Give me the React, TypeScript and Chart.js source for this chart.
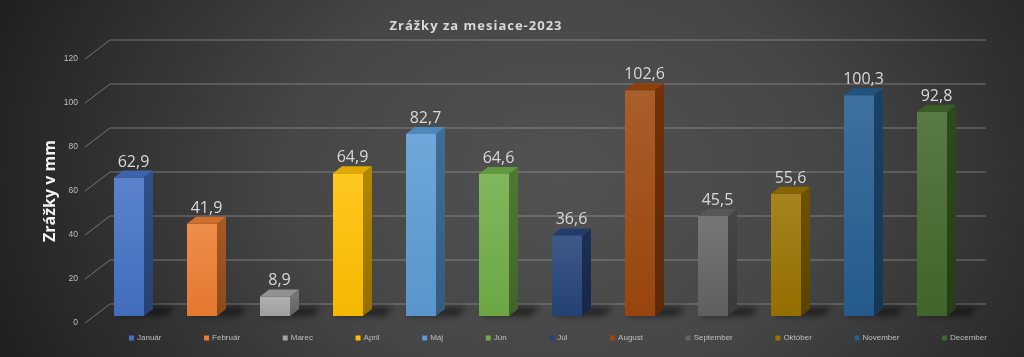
import React, { useEffect, useRef } from "react";
import { Chart, registerables } from "chart.js";

Chart.register(...registerables);

const months = ["Január", "Február", "Marec", "April", "Máj", "Jún", "Júl", "August", "September", "Október", "November", "December"];
const rainfall = [62.9, 41.9, 8.9, 64.9, 82.7, 64.6, 36.6, 102.6, 45.5, 55.6, 100.3, 92.8];
const barColors = ["#4472C4", "#ED7D31", "#A5A5A5", "#FFC000", "#5B9BD5", "#70AD47", "#264478", "#9E480E", "#636363", "#997300", "#255E91", "#43682B"];
const chartTitle = "Zrážky za mesiace-2023";
const yAxisTitle = "Zrážky v mm";
const yMin = 0;
const yMax = 120;
const yStep = 20;

function hexToRgb(h: string) {
  const n = parseInt(h.slice(1), 16);
  return [(n >> 16) & 255, (n >> 8) & 255, n & 255];
}
function mix(h: string, target: number, t: number) {
  const [r, g, b] = hexToRgb(h);
  const f = (c: number) => Math.round(c + (target - c) * t);
  return `rgb(${f(r)},${f(g)},${f(b)})`;
}

// 3D geometry (pixels)
const BACK_DX = 17.5;
const BACK_DY = -12;
const DIAG_DX = 25;
const DIAG_DY = -19;
const DEPTH_X = 9;
const DEPTH_Y = -7;

const fmt = (v: number) => v.toFixed(1).replace(".", ",");

const excel3d = {
  id: "excel3d",
  beforeDraw(chart: any) {
    const { ctx, width, height } = chart;
    ctx.save();
    ctx.translate(560, 175);
    ctx.scale(1, 0.75);
    const g = ctx.createRadialGradient(0, 0, 0, 0, 0, 600);
    g.addColorStop(0, "#525252");
    g.addColorStop(0.45, "#464646");
    g.addColorStop(1, "#202020");
    ctx.fillStyle = g;
    ctx.fillRect(-700, -400, 1500, 900);
    ctx.restore();
  },
  beforeDatasetsDraw(chart: any) {
    const { ctx, chartArea } = chart;
    const y = chart.scales.y;
    ctx.save();
    ctx.strokeStyle = "rgba(200,200,200,0.45)";
    ctx.lineWidth = 1;
    y.ticks.forEach((t: any) => {
      const py = y.getPixelForValue(t.value);
      const bx = chartArea.left + BACK_DX;
      const by = py + BACK_DY;
      ctx.beginPath();
      ctx.moveTo(bx - DIAG_DX, by - DIAG_DY);
      ctx.lineTo(bx, by);
      ctx.lineTo(chartArea.right + BACK_DX, by);
      ctx.stroke();
    });
    // floor shadows
    const meta = chart.getDatasetMeta(0);
    ctx.filter = "blur(3px)";
    ctx.fillStyle = "rgba(0,0,0,0.5)";
    meta.data.forEach((el: any) => {
      const { x, base, width } = el.getProps(["x", "base", "width"], true);
      const l = x - width / 2;
      const r = x + width / 2;
      ctx.beginPath();
      ctx.moveTo(l + 2, base);
      ctx.lineTo(r + 22, base);
      ctx.lineTo(r + 22 + DEPTH_X, base + DEPTH_Y - 2);
      ctx.lineTo(l + 2 + DEPTH_X, base + DEPTH_Y - 2);
      ctx.closePath();
      ctx.fill();
    });
    ctx.restore();
  },
  afterDatasetsDraw(chart: any) {
    const { ctx } = chart;
    const meta = chart.getDatasetMeta(0);
    ctx.save();
    meta.data.forEach((el: any, i: number) => {
      const { x, y, base, width } = el.getProps(["x", "y", "base", "width"], true);
      const l = x - width / 2;
      const r = x + width / 2;
      const c = barColors[i];
      // side face
      const sg = ctx.createLinearGradient(0, y, 0, base);
      sg.addColorStop(0, mix(c, 0, 0.3));
      sg.addColorStop(1, mix(c, 0, 0.42));
      ctx.fillStyle = sg;
      ctx.beginPath();
      ctx.moveTo(r, y);
      ctx.lineTo(r + DEPTH_X, y + DEPTH_Y);
      ctx.lineTo(r + DEPTH_X, base + DEPTH_Y);
      ctx.lineTo(r, base);
      ctx.closePath();
      ctx.fill();
      // top face
      ctx.fillStyle = mix(c, 0, 0.12);
      ctx.beginPath();
      ctx.moveTo(l, y);
      ctx.lineTo(l + DEPTH_X, y + DEPTH_Y);
      ctx.lineTo(r + DEPTH_X, y + DEPTH_Y);
      ctx.lineTo(r, y);
      ctx.closePath();
      ctx.fill();
      // value label
      ctx.fillStyle = "#d9d9d9";
      ctx.font = '16px "Open Sans"';
      ctx.textAlign = "center";
      ctx.textBaseline = "alphabetic";
      ctx.fillText(fmt(rainfall[i]), x + DEPTH_X / 2, y + DEPTH_Y - 4);
    });
    ctx.restore();
  },
  afterDraw(chart: any) {
    const { ctx, chartArea } = chart;
    const y = chart.scales.y;
    ctx.save();
    // title
    ctx.fillStyle = "#d9d9d9";
    ctx.font = 'bold 13px "Open Sans"';
    (ctx as any).letterSpacing = "1px";
    ctx.textAlign = "center";
    ctx.textBaseline = "middle";
    ctx.fillText(chartTitle, 476, 26);
    (ctx as any).letterSpacing = "0px";
    // y axis title
    ctx.save();
    ctx.translate(50, 191);
    ctx.rotate(-Math.PI / 2);
    ctx.fillStyle = "#f2f2f2";
    ctx.font = 'bold 16px "Open Sans"';
    ctx.fillText(yAxisTitle, 0, 0);
    ctx.restore();
    // ticks
    ctx.fillStyle = "#bfbfbf";
    ctx.font = '8.5px "Liberation Sans"';
    ctx.textAlign = "right";
    ctx.textBaseline = "middle";
    y.ticks.forEach((t: any) => {
      const py = y.getPixelForValue(t.value);
      const fx = chartArea.left + BACK_DX - DIAG_DX;
      const fy = py + BACK_DY - DIAG_DY;
      ctx.fillText(String(t.value), fx - 7, fy);
    });
    // legend
    ctx.font = '8px "Liberation Sans"';
    ctx.textAlign = "left";
    const widths = months.map((m) => ctx.measureText(m).width);
    const startX = 129;
    const endX = 942;
    let used = 0;
    for (let i = 0; i < months.length - 1; i++) used += 8 + widths[i];
    const gap = (endX - startX - used) / (months.length - 1);
    let lx = startX;
    const ly = 338;
    months.forEach((m, i) => {
      ctx.fillStyle = barColors[i];
      ctx.fillRect(lx, ly - 2.5, 5, 5);
      ctx.fillStyle = "#bfbfbf";
      ctx.fillText(m, lx + 8, ly);
      lx += 8 + widths[i] + gap;
    });
    ctx.restore();
  },
};

export default function App() {
  const ref = useRef<HTMLCanvasElement>(null);
  useEffect(() => {
    if (!ref.current) return;
    const chart = new Chart(ref.current, {
      type: "bar",
      data: {
        labels: months,
        datasets: [
          {
            label: yAxisTitle,
            data: rainfall,
            borderWidth: 0,
            barPercentage: 30 / 73,
            categoryPercentage: 1,
            backgroundColor: (c: any) => {
              const ch = c.chart;
              const i = c.dataIndex;
              const col = barColors[i] ?? "#888";
              const ys = ch.scales && ch.scales.y;
              if (!ys || !ch.chartArea || c.type !== "data") return col;
              const top = ys.getPixelForValue(rainfall[i]);
              const bottom = ys.getPixelForValue(0);
              const g = ch.ctx.createLinearGradient(0, top, 0, bottom);
              g.addColorStop(0, mix(col, 255, 0.12));
              g.addColorStop(1, mix(col, 0, 0.04));
              return g;
            },
          },
        ],
      },
      options: {
        responsive: true,
        maintainAspectRatio: false,
        animation: false,
        layout: { padding: { left: 92.5, right: 55.5, top: 52, bottom: 41 } },
        scales: {
          x: { display: false },
          y: { display: false, min: yMin, max: yMax, ticks: { stepSize: yStep } },
        },
        plugins: { legend: { display: false }, title: { display: false }, tooltip: { enabled: false } },
      },
      plugins: [excel3d],
    });
    return () => chart.destroy();
  }, []);
  return (
    <div style={{ position: "absolute", left: 0, top: 0, width: 1024, height: 357 }}>
      <canvas ref={ref} />
    </div>
  );
}
